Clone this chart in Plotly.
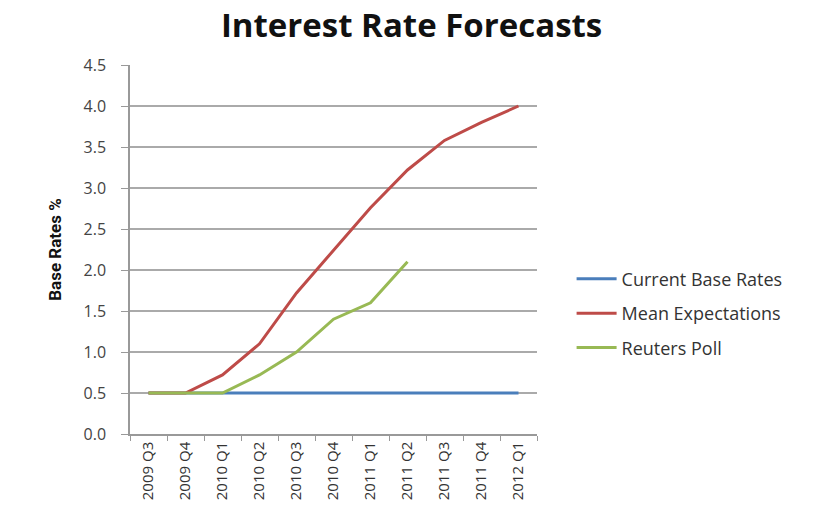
import plotly.graph_objects as go

quarters = ["2009 Q3", "2009 Q4", "2010 Q1", "2010 Q2", "2010 Q3", "2010 Q4",
            "2011 Q1", "2011 Q2", "2011 Q3", "2011 Q4", "2012 Q1"]
current_base = [0.5, 0.5, 0.5, 0.5, 0.5, 0.5, 0.5, 0.5, 0.5, 0.5, 0.5]
mean_expect = [0.5, 0.5, 0.72, 1.1, 1.72, 2.24, 2.76, 3.22, 3.58, 3.8, 4.0]
reuters_quarters = quarters[:8]
reuters_poll = [0.5, 0.5, 0.5, 0.72, 1.0, 1.4, 1.6, 2.1]

series = [
    ("Current Base Rates", quarters, current_base, "#4A7EBB"),
    ("Mean Expectations", quarters, mean_expect, "#BE4B48"),
    ("Reuters Poll", reuters_quarters, reuters_poll, "#98B954"),
]

fig = go.Figure()
for i, (name, xs, ys, col) in enumerate(series):
    fig.add_trace(go.Scatter(x=xs, y=ys, name=name, mode="lines",
                             line=dict(color=col, width=3),
                             legendgroup=f"g{i}"))

font_fam = "'Open Sans', sans-serif"
fig.update_layout(
    width=815, height=517,
    paper_bgcolor="white", plot_bgcolor="white",
    margin=dict(l=130, r=278, t=65, b=83),
    title=dict(text="<b>Interest Rate Forecasts</b>", x=0.505, xanchor="center",
               y=0.95, yanchor="middle",
               font=dict(family=font_fam, size=33, color="#111")),
    showlegend=True,
    legend=dict(x=1.085, xanchor="left", y=0.47, yanchor="top",
                traceorder="grouped", tracegroupgap=8,
                font=dict(family=font_fam, size=18, color="#333"),
                bgcolor="rgba(0,0,0,0)", itemwidth=40),
    font=dict(family=font_fam),
)
fig.update_xaxes(type="category", categoryorder="array", categoryarray=quarters,
                 tickson="boundaries", ticks="outside", ticklen=5, tickcolor="#999",
                 tickangle=-90, showgrid=False, showline=True, linecolor="#999",
                 linewidth=1.5, tickfont=dict(family=font_fam, size=15, color="#333"),
                 range=[-0.5, 10.5])
fig.update_yaxes(range=[0, 4.5], dtick=0.5, tickformat=".1f", showgrid=True,
                 gridcolor="#aaaaaa", gridwidth=1.5, zeroline=False,
                 showline=True, linecolor="#999", linewidth=1.5,
                 ticks="outside", ticklen=7, tickcolor="#999",
                 ticklabelstandoff=12,
                 tickfont=dict(family=font_fam, size=16, color="#444"),
                 title=dict(text="<b>Base Rates %</b>", standoff=18,
                            font=dict(family="Roboto, sans-serif",
                                      size=17, color="#111")))

fig.write_html("out.html")
